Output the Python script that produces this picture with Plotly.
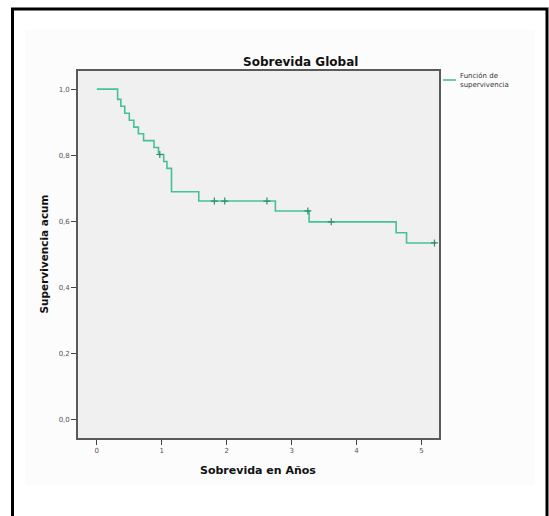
import plotly.graph_objects as go

# Kaplan-Meier step curve
step_times = [0.0, 0.32, 0.37, 0.43, 0.50, 0.57, 0.64, 0.72, 0.88, 0.95, 1.03, 1.08, 1.15, 1.57, 2.75, 3.27, 4.61, 4.77, 5.22]
step_surv = [1.0, 0.969, 0.948, 0.927, 0.906, 0.885, 0.865, 0.844, 0.823, 0.802, 0.781, 0.760, 0.689, 0.661, 0.631, 0.598, 0.565, 0.534, 0.534]

# censored observations
cens_times = [0.97, 1.81, 1.97, 2.62, 3.25, 3.61, 5.20]
cens_surv = [0.802, 0.661, 0.661, 0.661, 0.631, 0.598, 0.534]

x_ticks = [0, 1, 2, 3, 4, 5]
y_ticks = [0.0, 0.2, 0.4, 0.6, 0.8, 1.0]
y_ticktext = ["0,0", "0,2", "0,4", "0,6", "0,8", "1,0"]

title_text = "Sobrevida Global"
x_title = "Sobrevida en Años"
y_title = "Supervivencia acum"
legend_text = "Función de<br>supervivencia"

line_color = "#44c19a"
cens_color = "#2c8f6c"
font_family = "DejaVu Sans, Verdana, sans-serif"

fig = go.Figure()
fig.add_trace(go.Scatter(
    x=step_times, y=step_surv, mode="lines", line_shape="hv",
    line=dict(color=line_color, width=1.6), showlegend=False, hoverinfo="skip"))
fig.add_trace(go.Scatter(
    x=cens_times, y=cens_surv, mode="markers",
    marker=dict(symbol="cross-thin", size=5, line=dict(color=cens_color, width=1.2)),
    showlegend=False, hoverinfo="skip"))

# pixel geometry helpers
L, R, T, B = 78, 439, 71, 438
W, H = 549, 516
def px(X):
    return (X - L) / (R - L)
def py(Y):
    return (B - Y) / (B - T)

shapes = [
    # chart area very light background
    dict(type="rect", xref="paper", yref="paper", x0=px(25), x1=px(535), y0=py(485), y1=py(30),
         fillcolor="#fcfcfc", line=dict(width=0), layer="below"),
    # plot area background
    dict(type="rect", xref="paper", yref="paper", x0=0, x1=1, y0=0, y1=1,
         fillcolor="#f0f0f0", line=dict(width=0), layer="below"),
    # outer black frame
    dict(type="rect", xref="paper", yref="paper", x0=px(12.5), x1=px(547), y0=py(525), y1=py(9),
         line=dict(color="black", width=3), fillcolor="rgba(0,0,0,0)", layer="above"),
    # legend sample line
    dict(type="line", xref="paper", yref="paper", x0=px(443), x1=px(456), y0=py(80), y1=py(80),
         line=dict(color=line_color, width=1.6)),
]

annotations = [
    dict(text=f"<b>{title_text}</b>", xref="paper", yref="paper", x=px(300), y=py(62),
         xanchor="center", yanchor="middle", showarrow=False,
         font=dict(family=font_family, size=12, color="#111")),
    dict(text=f"<b>{x_title}</b>", xref="paper", yref="paper", x=px(258), y=py(470),
         xanchor="center", yanchor="middle", showarrow=False,
         font=dict(family=font_family, size=11, color="#111")),
    dict(text=f"<b>{y_title}</b>", xref="paper", yref="paper", x=px(43), y=0.5,
         xanchor="center", yanchor="middle", showarrow=False, textangle=-90,
         font=dict(family=font_family, size=10.5, color="#111")),
    dict(text=legend_text, xref="paper", yref="paper", x=px(458), y=py(80.5),
         xanchor="left", yanchor="middle", showarrow=False, align="left",
         font=dict(family=font_family, size=7, color="#333")),
]

fig.update_layout(
    width=W, height=H,
    margin=dict(l=L, r=W - R, t=T, b=H - B, pad=0),
    paper_bgcolor="white",
    plot_bgcolor="rgba(0,0,0,0)",
    shapes=shapes,
    annotations=annotations,
    xaxis=dict(range=[-0.29, 5.27], tickvals=x_ticks, ticktext=[str(v) for v in x_ticks],
               showgrid=False, zeroline=False, showline=True, mirror=True,
               linecolor="#5a5a5a", linewidth=1.6, ticks="outside", ticklen=5,
               tickwidth=1.2, tickcolor="#444",
               tickfont=dict(family=font_family, size=7, color="#555")),
    yaxis=dict(range=[-0.057, 1.055], tickvals=y_ticks, ticktext=y_ticktext,
               showgrid=False, zeroline=False, showline=True, mirror=True,
               linecolor="#5a5a5a", linewidth=1.6, ticks="outside", ticklen=5,
               tickwidth=1.2, tickcolor="#444",
               tickfont=dict(family=font_family, size=7, color="#555")),
)

fig.write_html("out.html")
